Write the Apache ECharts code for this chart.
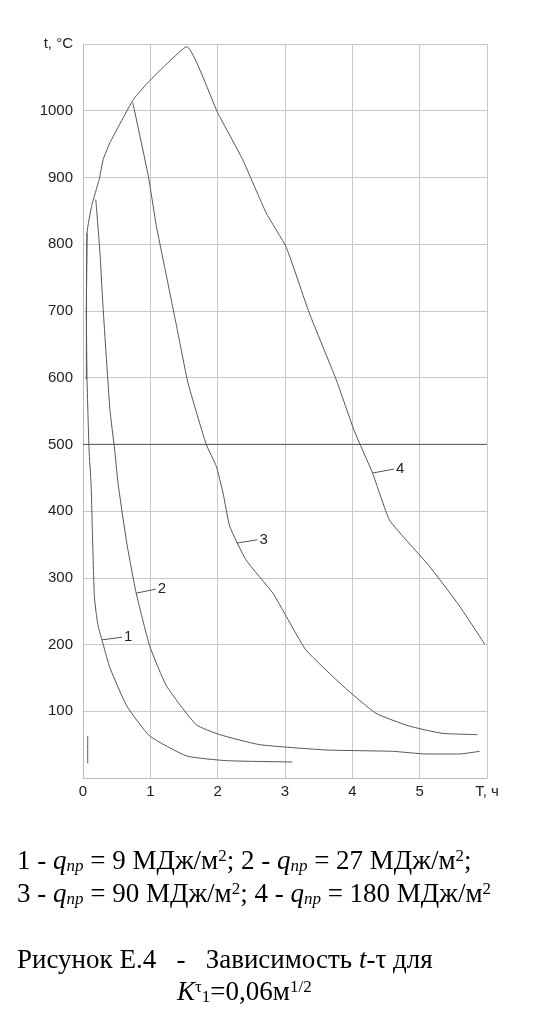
<!DOCTYPE html><html><head><meta charset="utf-8"><script src="https://cdn.jsdelivr.net/npm/echarts@6/dist/echarts.min.js"></script>
<style>html,body{margin:0;background:#fff}#c{width:546px;height:1024px}</style></head><body><div id="c"></div><script>
const xTicks=[0,1,2,3,4,5,6];
const yTicks=[100,200,300,400,500,600,700,800,900,1000];
const curve1=[[0.06,817],[0.05,700],[0.06,597],[0.09,492],[0.12,440],[0.14,367],[0.17,270],[0.22,230],[0.30,200],[0.40,165],[0.65,108],[0.99,63],[1.54,33],[2.13,26],[3.11,24]];
const curve2=[[0.19,867],[0.25,790],[0.30,702],[0.40,552],[0.47,492],[0.52,442],[0.65,352],[0.79,277],[0.99,198],[1.24,138],[1.68,80],[2.03,65],[2.62,50],[3.61,42],[4.60,40],[5.09,36],[5.59,36],[5.89,40]];
const curve3=[[0.74,1012],[0.97,902],[1.09,827],[1.24,752],[1.39,677],[1.56,592],[1.83,500],[1.98,467],[2.08,427],[2.18,377],[2.42,327],[2.82,277],[3.02,242],[3.31,192],[3.86,138],[4.35,97],[4.84,78],[5.33,67],[5.86,65]];
const curve4=[[0.05,597],[0.06,817],[0.13,858],[0.24,897],[0.30,927],[0.40,952],[0.75,1017],[0.99,1045],[1.14,1060],[1.54,1096],[2.00,997],[2.37,927],[2.72,847],[3.02,795],[3.36,697],[3.76,597],[4.03,520],[4.30,457],[4.55,387],[4.84,352],[5.14,318],[5.59,258],[5.97,200]];
const tick=[[0.07,63],[0.07,22]];
const leaders=[{n:'1',d:[[0.28,207],[0.58,211]]},{n:'2',d:[[0.79,277],[1.08,283]]},{n:'3',d:[[2.28,352],[2.59,357]]},{n:'4',d:[[4.30,457],[4.62,463]]}];
const ch=echarts.init(document.getElementById('c'));
const ls={color:'#555',width:1};
const series=[curve1,curve2,curve3,curve4,tick].map(d=>({type:'line',data:d,showSymbol:false,smooth:0.15,lineStyle:ls,silent:true}));
leaders.forEach(l=>series.push({type:'line',data:l.d,showSymbol:false,lineStyle:ls,silent:true,
 endLabel:{show:true,formatter:l.n,fontFamily:'Liberation Sans',fontSize:15,color:'#222',distance:2}}));
series.push({type:'line',data:[[0,500],[6,500]],showSymbol:false,lineStyle:{color:'#555',width:1},silent:true});
const sub={fontSize:17,fontFamily:'Liberation Serif',fontStyle:'italic',color:'#111',padding:[10,0,0,0]};
const sup={fontSize:17,fontFamily:'Liberation Serif',color:'#111',padding:[0,0,11,0]};
const q={fontSize:27,fontFamily:'Liberation Serif',fontStyle:'italic',color:'#111'};
const base={fontSize:27,fontFamily:'Liberation Serif',color:'#111'};
ch.setOption({
 animation:false,
 grid:{left:83,right:59,top:44,bottom:246},
 xAxis:{type:'value',min:0,max:6,interval:1,
  axisLine:{lineStyle:{color:'#bbb'}},axisTick:{show:false},
  splitLine:{lineStyle:{color:'#c8c8c8'}},
  axisLabel:{color:'#222',fontFamily:'Liberation Sans',fontSize:15,margin:6,formatter:v=>v===6?'T, ч':String(v)}},
 yAxis:{type:'value',min:0,max:1100,interval:100,
  axisLine:{show:true,lineStyle:{color:'#bbb'}},axisTick:{show:false},
  splitLine:{lineStyle:{color:'#c8c8c8'}},
  axisLabel:{color:'#222',fontFamily:'Liberation Sans',fontSize:15,margin:10,formatter:v=>v===1100?'t, °C':(yTicks.includes(v)?String(v):'')}},
 series,
 graphic:[
  {type:'text',left:17,top:848,style:{rich:{b:base,q:q,s:sub,p:sup},text:'{b|1 - }{q|q}{s|пр}{b| = 9 МДж/м}{p|2}{b|; 2 - }{q|q}{s|пр}{b| = 27 МДж/м}{p|2}{b|;}'}},
  {type:'text',left:17,top:881,style:{rich:{b:base,q:q,s:sub,p:sup},text:'{b|3 - }{q|q}{s|пр}{b| = 90 МДж/м}{p|2}{b|; 4 - }{q|q}{s|пр}{b| = 180 МДж/м}{p|2}'}},
  {type:'text',left:17,top:947,style:{rich:{b:base,q:q},text:'{b|Рисунок Е.4   -   Зависимость }{q|t}{b|-τ для}'}},
  {type:'text',left:177,top:979,style:{rich:{b:base,q:q,p:sup,s:{fontSize:17,fontFamily:'Liberation Serif',color:'#111',padding:[10,0,0,0]}},text:'{q|K}{p|τ}{s|1}{b|=0,06м}{p|1/2}'}}
 ]
});
</script></body></html>
